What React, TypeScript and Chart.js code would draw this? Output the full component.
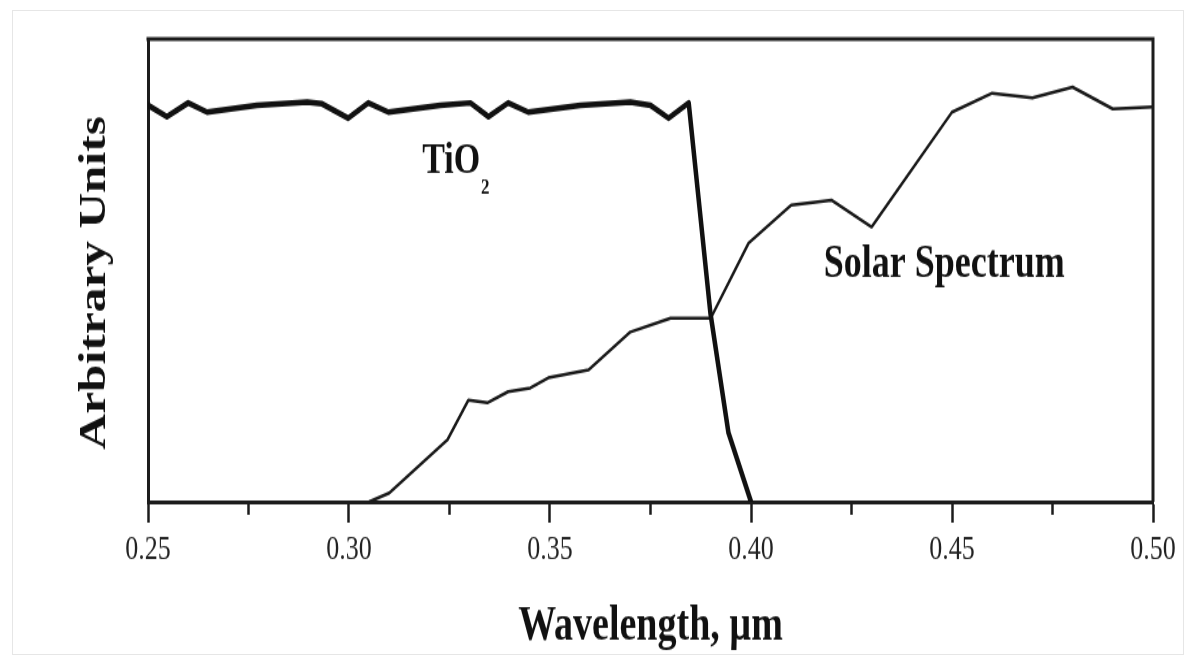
import React, { useEffect, useRef } from "react";
import { Chart, registerables } from "chart.js";

Chart.register(...registerables);

// TiO2 absorption (arbitrary units) vs wavelength (µm)
const tio2Wavelength = [
  0.25, 0.2547, 0.26, 0.2647, 0.2771, 0.2896, 0.2933, 0.2998, 0.3048, 0.3098, 0.3227, 0.3302,
  0.3347, 0.3396, 0.3446, 0.3576, 0.37, 0.375, 0.3795, 0.3845, 0.3899, 0.3944, 0.4,
];
const tio2Absorption = [
  85.7, 83.2, 86.2, 84.2, 85.7, 86.4, 86.0, 82.9, 86.2, 84.2, 85.7, 86.2,
  83.2, 86.2, 84.2, 85.7, 86.4, 85.7, 82.9, 86.2, 40.8, 14.9, 0,
];

// Solar spectrum (arbitrary units) vs wavelength (µm)
const solarWavelength = [
  0.305, 0.31, 0.3245, 0.3297, 0.3344, 0.3396, 0.3451, 0.3496, 0.3596, 0.37, 0.38,
  0.39, 0.3994, 0.41, 0.42, 0.43, 0.45, 0.46, 0.47, 0.48, 0.49, 0.5,
];
const solarIntensity = [
  0, 1.9, 13.4, 22.0, 21.4, 23.8, 24.6, 26.8, 28.5, 36.7, 39.7,
  39.7, 55.9, 64.1, 65.2, 59.4, 84.2, 88.3, 87.3, 89.6, 84.9, 85.3,
];

// Axis ticks
const majorTickStep = 0.05;
const minorTickValues = [0.275, 0.325, 0.375, 0.425, 0.475];

// Text labels inside the plot (data coordinates of the text baseline start)
const tio2Label = { x: 0.3182, y: 71.1 };
const solarLabel = { x: 0.4181, y: 48.6 };

const SERIF = "'Liberation Serif', 'Times New Roman', serif";
const INK = "#1c1c1c";

const decorPlugin = {
  id: "decor",
  afterDraw(chart: any) {
    const { ctx, chartArea, scales } = chart;
    const { top, right, left, bottom } = chartArea;
    const xs = scales.x;
    const ys = scales.y;
    ctx.save();
    // top and right frame lines
    ctx.strokeStyle = INK;
    ctx.lineWidth = 3;
    ctx.beginPath();
    ctx.moveTo(left - 1.5, top);
    ctx.lineTo(right, top);
    ctx.lineTo(right, bottom);
    ctx.stroke();
    // minor ticks
    ctx.lineWidth = 2.5;
    ctx.beginPath();
    minorTickValues.forEach((v) => {
      const px = xs.getPixelForValue(v);
      ctx.moveTo(px, bottom);
      ctx.lineTo(px, bottom + 10);
    });
    ctx.stroke();
    // labels
    ctx.fillStyle = "#111";
    ctx.textBaseline = "alphabetic";
    ctx.textAlign = "left";
    const tx = xs.getPixelForValue(tio2Label.x);
    const ty = ys.getPixelForValue(tio2Label.y);
    ctx.font = `bold 34px ${SERIF}`;
    ctx.fillText("TiO", tx, ty);
    const w = ctx.measureText("TiO").width;
    ctx.font = `bold 17px ${SERIF}`;
    ctx.fillText("2", tx + w + 1, ty + 16);
    ctx.font = `bold 36px ${SERIF}`;
    ctx.fillText("Solar Spectrum", xs.getPixelForValue(solarLabel.x), ys.getPixelForValue(solarLabel.y));
    ctx.restore();
  },
};

export default function App() {
  const canvasRef = useRef<HTMLCanvasElement | null>(null);

  useEffect(() => {
    if (!canvasRef.current) return;
    const chart = new Chart(canvasRef.current, {
      type: "line",
      data: {
        datasets: [
          {
            label: "TiO2",
            data: tio2Wavelength.map((x, i) => ({ x, y: tio2Absorption[i] })),
            borderColor: "#111",
            borderWidth: 4.5,
            pointRadius: 0,
            tension: 0,
            fill: false,
            borderJoinStyle: "round",
            borderCapStyle: "round",
          },
          {
            label: "Solar Spectrum",
            data: solarWavelength.map((x, i) => ({ x, y: solarIntensity[i] })),
            borderColor: "#1a1a1a",
            borderWidth: 2.5,
            pointRadius: 0,
            tension: 0,
            fill: false,
            borderJoinStyle: "round",
          },
        ],
      },
      options: {
        animation: false,
        responsive: true,
        maintainAspectRatio: false,
        layout: { padding: { top: 30, right: 39, left: 0, bottom: 0 } },
        plugins: {
          legend: { display: false },
          tooltip: { enabled: false },
        },
        scales: {
          x: {
            type: "linear",
            min: 0.25,
            max: 0.5,
            ticks: {
              stepSize: majorTickStep,
              autoSkip: false,
              maxRotation: 0,
              padding: 6,
              color: "#222",
              font: { family: SERIF, size: 26 },
              callback: (v: any) => Number(v).toFixed(2),
            },
            grid: {
              drawOnChartArea: false,
              drawTicks: true,
              tickLength: 16,
              tickWidth: 2.5,
              tickColor: INK,
            },
            border: { display: true, color: INK, width: 3 },
            title: {
              display: true,
              text: "Wavelength, µm",
              color: "#111",
              font: { family: SERIF, size: 38, weight: "bold" },
              padding: { top: 1, bottom: 0 },
            },
            afterFit: (s: any) => {
              s.height = 119;
            },
          },
          y: {
            type: "linear",
            min: 0,
            max: 100,
            ticks: { display: false },
            grid: { display: false },
            border: { display: true, color: INK, width: 3 },
            title: {
              display: true,
              text: "Arbitrary Units  ",
              color: "#111",
              font: { family: SERIF, size: 38, weight: "bold" },
              padding: { top: 72, bottom: 0 },
            },
            afterFit: (s: any) => {
              s.width = 148;
            },
          },
        },
      } as any,
      plugins: [decorPlugin],
    });
    return () => chart.destroy();
  }, []);

  return (
    <div
      style={{
        position: "absolute",
        left: 0,
        top: 0,
        width: 1192,
        height: 657,
        background: "#fff",
        overflow: "hidden",
      }}
    >
      <div
        style={{
          position: "absolute",
          left: 12,
          top: 10,
          width: 1172,
          height: 645,
          border: "1px solid #e6e6e6",
          boxSizing: "border-box",
        }}
      />
      <div
        style={{
          position: "absolute",
          left: 0,
          top: 0,
          width: 1192,
          height: 505,
          transform: "scaleY(1.3)",
          transformOrigin: "0 0",
        }}
      >
        <canvas ref={canvasRef} />
      </div>
    </div>
  );
}
